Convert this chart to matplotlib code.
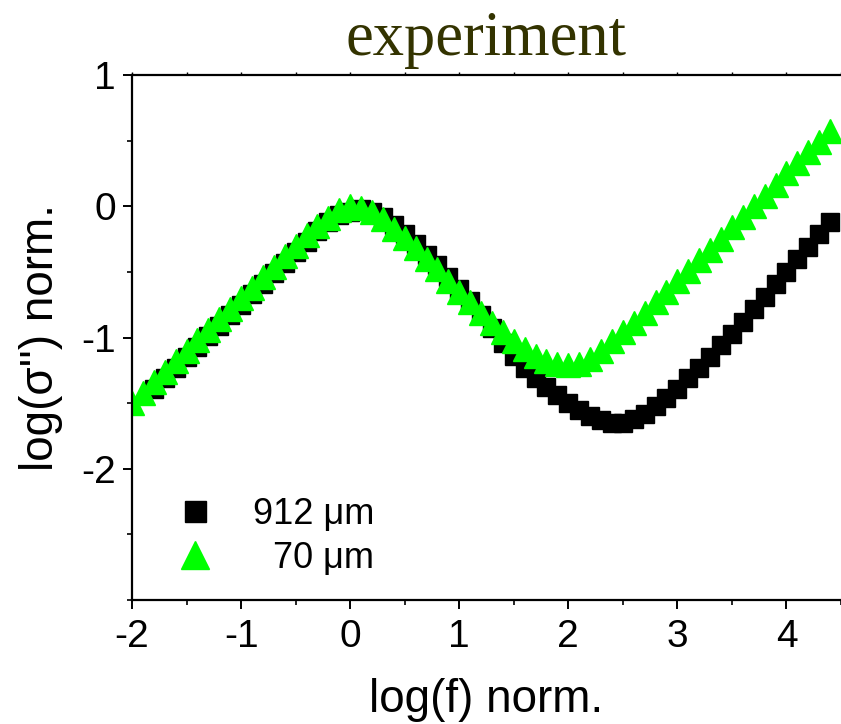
import matplotlib
matplotlib.use('Agg')
import matplotlib.pyplot as plt
import numpy as np

plt.rcParams['font.family'] = ['Liberation Sans', 'DejaVu Sans']
plt.rcParams['axes.unicode_minus'] = False

# log(f) norm. grids (10 points per decade)
x_70 = np.round(np.arange(-2.0, 4.45, 0.1), 1)
x_912 = np.round(np.arange(-1.8, 4.45, 0.1), 1)

# log(sigma'') norm.
y_70 = [-1.50, -1.42, -1.34, -1.26, -1.18, -1.10, -1.02, -0.94, -0.86, -0.78,
        -0.70, -0.62, -0.54, -0.46, -0.38, -0.30, -0.22, -0.15, -0.09, -0.03,
        0.00, -0.01, -0.04, -0.10, -0.17, -0.24, -0.32, -0.40, -0.48, -0.57,
        -0.65, -0.73, -0.81, -0.89, -0.96, -1.03, -1.09, -1.14, -1.18, -1.20,
        -1.21, -1.20, -1.16, -1.10, -1.03, -0.96, -0.89, -0.81, -0.73, -0.65,
        -0.57, -0.49, -0.41, -0.33, -0.25, -0.16, -0.08, 0.00, 0.08, 0.16,
        0.25, 0.33, 0.41, 0.49, 0.57]

y_912 = [-1.39, -1.31, -1.23, -1.15, -1.07, -0.99, -0.91, -0.83, -0.75, -0.67,
         -0.59, -0.51, -0.43, -0.35, -0.27, -0.19, -0.12, -0.07, -0.04, -0.02,
         -0.04, -0.08, -0.14, -0.21, -0.29, -0.37, -0.45, -0.54, -0.63, -0.72,
         -0.83, -0.93, -1.04, -1.14, -1.23, -1.31, -1.38, -1.44, -1.50, -1.55,
         -1.60, -1.63, -1.65, -1.65, -1.62, -1.58, -1.52, -1.46, -1.39, -1.31,
         -1.23, -1.15, -1.06, -0.97, -0.88, -0.78, -0.69, -0.59, -0.50, -0.40,
         -0.31, -0.21, -0.12]

labels = ['912 \u03bcm', '  70 \u03bcm']

fig = plt.figure(figsize=(8.41, 7.24), dpi=100)
ax = fig.add_axes([132/841, 1 - 600/724, 709/841, 525/724])

ax.plot(x_912, y_912, ls='none', marker='s', ms=13.5, color='black',
        mec='black', label=labels[0])
ax.plot(x_70, y_70, ls='none', marker='^', ms=17.5, color='#00ff00',
        mec='#00ff00', label=labels[1])

ax.set_xlim(-2, -2 + 709/110)
ax.set_ylim(-3, 1)
ax.set_xticks([-2, -1, 0, 1, 2, 3, 4])
ax.set_yticks([-2, -1, 0, 1])
ax.set_yticklabels(['-2', '-1', '0', '1'])
ax.set_xticks(np.arange(-2, 4.6, 0.5), minor=True)
ax.set_yticks(np.arange(-3, 1.01, 0.5), minor=True)

for s in ['left', 'bottom', 'top']:
    ax.spines[s].set_linewidth(1.6)
ax.spines['right'].set_visible(False)

ax.tick_params(which='major', direction='out', length=6.5, width=1.4,
               labelsize=28, pad=5)
ax.tick_params(which='minor', direction='out', length=3.5, width=1.2)
ax.tick_params(axis='x', which='major', pad=7)

# small ticks on the top edge
top = ax.secondary_xaxis('top')
top.set_xticks(np.arange(-2, 4.6, 0.5))
top.set_xticklabels([])
top.tick_params(direction='out', length=2, width=1.0)
top.spines['top'].set_visible(False)

ax.set_xlabel('log(f) norm.', fontsize=33, labelpad=17)
ax.set_ylabel("log(\u03c3'') norm.", fontsize=33, labelpad=13)

ax.legend(loc='lower left', bbox_to_anchor=(0.017, -0.016), frameon=False,
          fontsize=26, markerscale=1.12, handlelength=1.0,
          handletextpad=1.13, labelspacing=0.25, numpoints=1)

fig.text(486/841, 1 - 55/724, 'experiment', ha='center', va='baseline',
         family='Liberation Serif', fontsize=45, color='#333300')

fig.savefig('out.png', dpi=100)
